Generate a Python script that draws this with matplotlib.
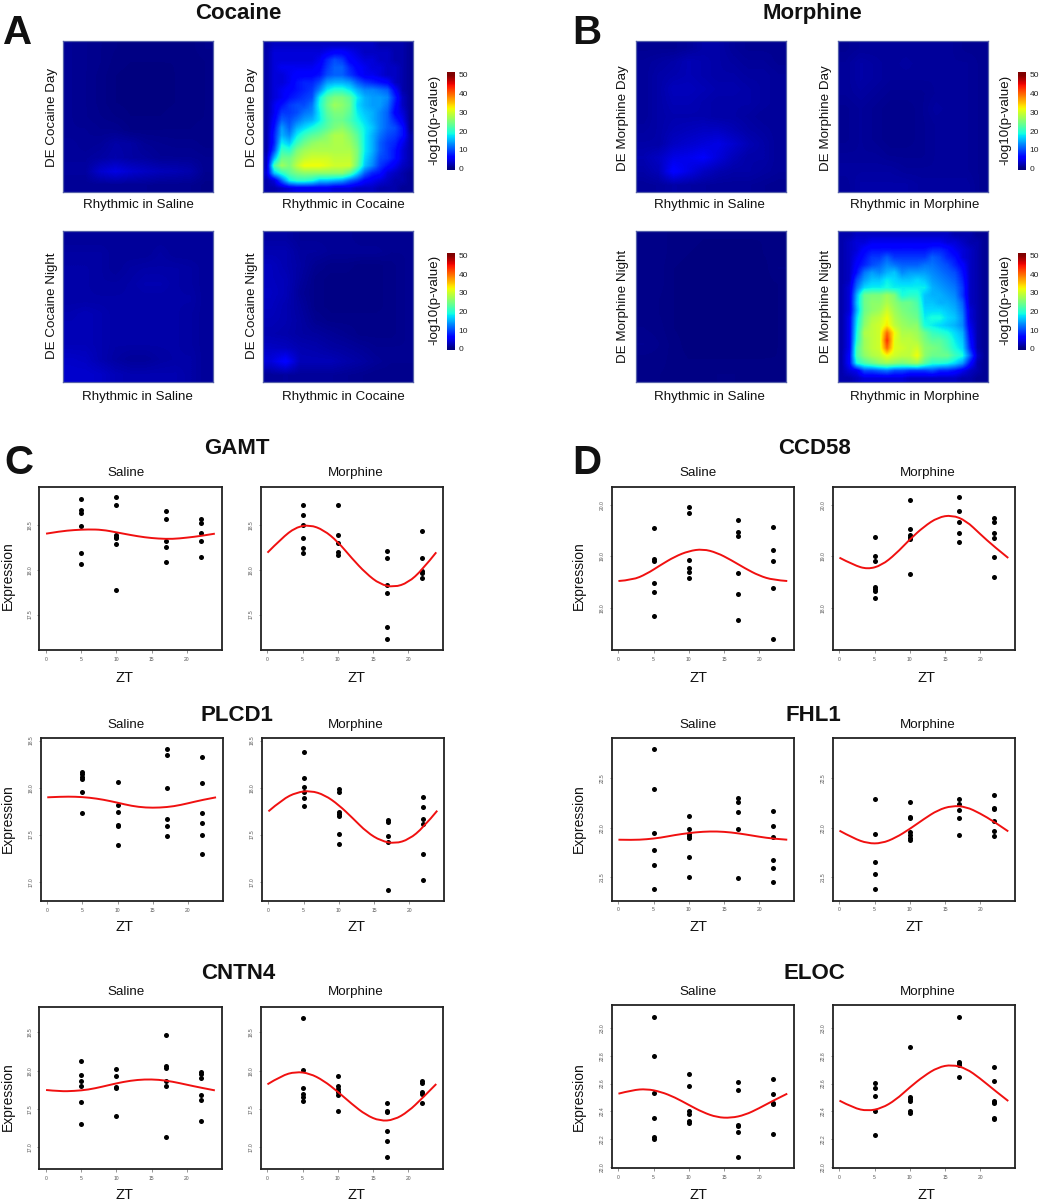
import numpy as np
import matplotlib
matplotlib.use("Agg")
import matplotlib.pyplot as plt
from matplotlib.path import Path
from matplotlib.patches import PathPatch

plt.rcParams['font.family'] = ['Liberation Sans', 'DejaVu Sans']

W, H = 1039, 1200

# ---------- heatmap values (-log10 p), top row first ----------
COC_DAY_SAL = [
 [1,.8,.6,.4,.3,.3,.3,.3,.3,.6],
 [1,.8,.6,.3,.2,.2,.2,.2,.2,.4],
 [1,.8,.5,.2,.1,.1,.1,.2,.2,.4],
 [1,.8,.5,.2,.1,.1,.1,.2,.2,.4],
 [1,.8,.5,.2,.1,.1,.1,.2,.2,.4],
 [1,.8,.6,.4,.2,.2,.2,.3,.3,.4],
 [1,1,.8,.8,.4,.4,.4,.4,.4,.5],
 [1.3,1,1.2,1.8,1.6,1,.8,.7,.7,.5],
 [1.3,1.3,1.6,2,1.6,1.4,1,1,1,.8],
 [1.5,1.5,3.5,4.5,3.6,3,2.6,2.4,2,.8],
 [1,1,1,1,1,1,.8,.8,.8,.5]]
COC_DAY_COC = [
 [2,3,3,3,3,3,3,3,3,3,3,3,3,3,3,2,2,2,2,1],
 [2,4,4,4,4,4,4,4,5,6,6,5,4,3,3,3,3,2,2,1],
 [2,4,4,4,4,4,4,5,8,10,9,6,5,4,4,3,3,2,2,1],
 [2,4,5,5,5,5,5,6,9,11,11,8,6,5,4,4,3,3,2,1],
 [2,4,4,5,6,6,6,7,10,11,11,9,7,5,5,4,3,3,2,1],
 [2,4,4,5,7,8,8,10,14,15,15,14,11,9,8,7,6,3,2,1],
 [2,4,5,6,7,8,9,13,18,20,20,18,15,13,13,12,11,6,2,1],
 [2,4,5,7,8,9,10,18,23,25,25,23,18,15,14,14,13,8,3,1],
 [2,5,7,9,10,10,12,19,24,27,26,24,17,15,14,14,12,7,3,1],
 [2,5,9,9,10,12,13,18,23,25,25,23,18,16,15,13,11,6,4,1],
 [2,6,11,10,12,14,15,18,22,24,24,22,19,17,15,13,11,8,5,1],
 [2,7,14,11,15,17,19,21,23,25,26,24,21,18,16,13,11,10,7,1],
 [2,8,15,13,18,21,23,24,26,28,28,26,23,18,15,12,10,9,7,2],
 [2,8,18,16,21,24,26,27,27,28,28,27,24,18,15,11,9,8,5,2],
 [2,10,21,20,25,27,28,28,28,28,28,28,25,18,15,11,9,7,4,2],
 [3,15,24,24,27,29,30,30,30,29,29,29,25,17,14,10,9,7,4,2],
 [3,22,27,25,29,32,32,32,31,30,30,30,24,16,13,9,7,5,3,2],
 [4,16,20,23,25,26,26,26,26,26,26,23,17,11,8,7,4,3,2,1],
 [2,4,11,18,20,20,19,16,16,15,14,11,9,6,5,4,3,2,2,1],
 [2,2,3,4,5,5,5,5,5,4,4,4,3,3,3,2,2,2,1,1]]
COC_NIGHT_SAL = [
 [1.2,1.2,1.2,1.2,1.2,1.2,1.2,1.2,1.2,1.2],
 [1.6,1.6,1.6,1.2,1.2,1.2,1.6,1.2,1.2,1.2],
 [1.8,1.8,1.6,1.2,1.6,1.8,1.8,1.8,1.6,1.2],
 [1.8,1.8,1.6,1.6,1.8,2.2,2.2,1.8,1.6,1.2],
 [1.8,1.8,1.8,1.8,1.8,1.8,1.8,1.8,1.8,1.2],
 [2.2,2.5,2.2,1.8,1.8,1.8,1.8,1.8,1.6,1.2],
 [2.5,2.5,2.2,1.8,1.8,1.8,1.8,1.8,1.6,1.2],
 [2.5,2.5,2.2,1.8,1.8,1.8,1.8,1.8,1.6,1.2],
 [3.2,3,2.2,1.6,1.2,1.2,1.6,1.8,1.8,1.2],
 [3.5,3.5,3.2,2.5,2.2,2.2,2.2,2.2,1.8,1.2]]
COC_NIGHT_COC = [
 [1.6,1.6,1.1,1.1,1.1,1.1,.8,.8,.8,.8],
 [2.2,2.2,1.4,1.4,1.1,1.1,1.1,1.1,.8,.8],
 [2.8,2.2,1.6,.8,.5,.5,.3,.3,.5,.8],
 [2.8,2.5,1.4,.5,.3,.3,.3,.3,.5,.8],
 [3,2.5,1.1,.5,.3,.3,.3,.3,.5,.8],
 [2.8,2.2,1.4,.5,.3,.3,.3,.3,.5,.8],
 [2.5,2.2,1.6,.8,.5,.5,.5,.5,.5,.8],
 [2.2,2,1.6,1.4,1.1,.8,.5,.5,.5,.8],
 [3,2.8,2.2,2,1.6,1.4,1.1,.8,.8,.8],
 [4,6,2.5,2.5,2.5,2,1.6,1.1,.8,.8],
 [1.2,1.4,1.2,1.2,1.2,1,.8,.6,.6,.6]]
MOR_DAY_SAL = [
 [.9,.9,.9,1.2,1.8,1.8,1.2,.9,.9,.9],
 [1.2,1.5,1.8,2.4,2.1,1.8,1.5,1.2,1.2,.9],
 [1.2,1.8,2.1,2.4,2.1,1.8,1.8,1.5,1.5,1.2],
 [1.2,1.8,2.7,2.7,2.4,2.1,2.1,1.8,1.5,1.2],
 [1.2,1.8,2.4,2.4,2.1,1.8,1.8,1.8,1.5,1.2],
 [1.2,1.8,2.1,2.1,2.1,1.8,1.8,1.5,1.2,1.2],
 [1.5,1.8,2.4,2.7,3,3,2.4,1.8,1.5,1.2],
 [1.8,1.8,3,3.5,4,4.5,3.5,2.4,1.8,1.2],
 [2.2,3,4.5,4.8,5.5,4,2.6,1.8,1.8,1.2],
 [1.8,2.5,6,4.5,3,2.2,1.8,1.8,1.5,1.2],
 [1.2,1.4,1.8,1.6,1.4,1.2,1.2,1.2,1,.8]]
MOR_DAY_MOR = [
 [.9,1.2,1.2,1.2,1.2,1.2,1.2,1.2,.9,.9],
 [1.2,1.8,1.5,1.2,1.5,1.2,1.2,1.2,1.2,.9],
 [1.2,1.8,1.5,1.2,1.2,1.2,1.2,1.2,1.2,.9],
 [1.2,1.5,1.2,.9,.9,.9,1.2,1.2,1.2,.9],
 [.9,1.2,.9,.6,.6,.9,1.5,1.2,1.2,.9],
 [.9,1.2,.9,.6,.6,.9,1.2,1.2,1.2,.9],
 [.9,1.2,.9,.6,.6,.9,1.2,1.2,1.2,.9],
 [1.2,1.2,1.2,.9,.9,.9,1.2,1.2,1.2,.9],
 [1.5,1.5,1.5,1.5,1.2,1.2,1.2,1.2,1.2,.9],
 [1.2,1.8,1.8,1.8,1.8,1.5,1.5,1.5,1.5,.9]]
MOR_NIGHT_SAL = [
 [.5,.5,.3,.3,.2,.2,.2,.2,.2,.3],
 [.5,.5,.3,.2,.1,.1,.1,.1,.2,.3],
 [.5,.5,.2,.1,.1,.1,.1,.1,.1,.4],
 [.5,.5,.2,.1,.1,.1,.1,.1,.1,.2],
 [.5,.4,.2,.1,.1,.1,.1,.1,.1,.2],
 [.5,.4,.2,.1,.1,.1,.1,.1,.1,.2],
 [.6,.5,.2,.1,.1,.1,.1,.1,.1,.2],
 [.8,.6,.3,.1,.1,.1,.1,.1,.1,.2],
 [.5,.5,.3,.2,.2,.2,.2,.2,.2,.2],
 [.4,.4,.3,.3,.3,.4,.4,.3,.3,.2]]
MOR_NIGHT_MOR = [
 [2,2,3,3,3,3,3,3,3,3,3,3,3,3,3,2,2,2,1,1],
 [2,3,4,4,5,5,5,5,5,5,5,5,5,5,4,4,3,2,2,1],
 [2,3,4,6,7,7,7,7,7,7,7,7,8,8,7,5,4,3,2,1],
 [2,3,5,7,9,9,11,9,9,9,9,9,11,10,8,7,4,3,2,1],
 [2,3,6,8,10,11,13,12,11,11,11,12,12,11,10,8,6,3,2,1],
 [2,3,7,12,14,13,15,16,13,14,14,14,13,12,11,10,7,3,2,1],
 [2,3,10,14,16,16,18,17,16,16,17,16,14,13,12,11,8,3,2,1],
 [2,4,12,17,18,18,19,18,18,18,18,18,15,14,13,12,9,3,2,1],
 [2,4,15,24,25,25,27,25,19,20,20,16,15,15,14,13,9,3,2,1],
 [2,4,16,24,26,26,28,26,24,24,22,16,16,15,15,14,11,3,2,1],
 [2,4,15,24,26,27,30,27,25,24,23,17,17,17,16,15,12,4,2,1],
 [2,5,17,25,28,29,32,28,26,25,24,18,19,19,17,16,13,4,2,1],
 [2,5,18,26,29,30,33,29,27,26,26,19,18,17,16,15,13,5,2,1],
 [2,5,19,28,29,30,40,32,28,28,27,24,21,20,19,17,15,6,2,1],
 [2,5,20,27,29,30,43,31,29,29,28,25,23,23,21,18,16,7,2,1],
 [2,5,22,27,29,30,40,31,30,29,30,26,25,24,22,19,17,8,2,1],
 [2,6,22,26,28,29,32,30,29,29,32,26,24,24,24,21,19,11,3,1],
 [2,6,19,22,24,26,27,26,25,26,27,23,20,20,19,17,14,7,2,1],
 [2,4,5,10,10,11,12,10,10,9,9,9,10,8,8,7,5,3,2,1],
 [2,2,3,4,4,4,4,4,4,3,3,3,3,3,3,3,2,2,1,1]]

CBAR_TICKS = [0, 10, 20, 30, 40, 50]

# ---------- expression values: one list per sampling time ----------
SAMPLE_ZT = [5, 10, 17, 22]
FIT_ZT = [0, 2, 4, 6, 8, 10, 12, 14, 16, 18, 20, 22, 24]
ZT_TICKS = [0, 5, 10, 15, 20]

GAMT_SAL = [[18.795,18.672,18.634,18.489,18.187,18.071],
            [18.821,18.728,18.392,18.373,18.354,18.295,17.772],
            [18.664,18.575,18.321,18.254,18.09],
            [18.567,18.526,18.414,18.321,18.146]]
GAMT_SAL_FIT = [18.407,18.433,18.448,18.455,18.451,18.422,18.392,18.366,18.351,18.347,18.362,18.381,18.407]
GAMT_MOR = [[18.728,18.616,18.5,18.362,18.25,18.194],
            [18.724,18.396,18.299,18.205,18.172],
            [18.213,18.131,17.832,17.739,17.362,17.228],
            [18.44,18.138,17.989,17.97,17.914]]
GAMT_MOR_FIT = [18.194,18.354,18.478,18.507,18.448,18.317,18.131,17.963,17.84,17.806,17.858,18.0,18.198]
GAMT_YTICKS = [17.5, 18.0, 18.5]

PLCD1_SAL = [[18.17,18.145,18.117,18.089,17.954,17.734],
             [18.06,17.819,17.741,17.599,17.592,17.39],
             [18.411,18.348,17.993,17.667,17.589,17.486],
             [18.33,18.05,17.727,17.628,17.5,17.294]]
PLCD1_SAL_FIT = [17.897,17.904,17.904,17.894,17.872,17.84,17.805,17.787,17.787,17.801,17.833,17.869,17.897]
PLCD1_MOR = [[18.376,18.099,18.011,17.95,17.894,17.805],
             [17.989,17.954,17.745,17.72,17.699,17.507,17.397],
             [17.656,17.638,17.486,17.426,16.908],
             [17.904,17.794,17.667,17.613,17.291,17.018]]
PLCD1_MOR_FIT = [17.748,17.876,17.95,17.968,17.922,17.816,17.674,17.525,17.433,17.404,17.45,17.574,17.755]
PLCD1_YTICKS = [17.0, 17.5, 18.0, 18.5]

CNTN4_SAL = [[18.126,17.948,17.87,17.804,17.587,17.3],
             [18.017,17.93,17.791,17.77,17.413],
             [18.461,18.057,18.03,17.87,17.804,17.139],
             [17.987,17.952,17.9,17.687,17.617,17.343]]
CNTN4_SAL_FIT = [17.748,17.73,17.735,17.752,17.791,17.835,17.87,17.887,17.883,17.857,17.817,17.778,17.743]
CNTN4_MOR = [[18.687,18.004,17.774,17.691,17.657,17.609],
             [17.935,17.8,17.761,17.726,17.687,17.474],
             [17.583,17.474,17.461,17.209,17.083,16.87],
             [17.87,17.835,17.726,17.691,17.574]]
CNTN4_MOR_FIT = [17.822,17.935,17.987,17.965,17.87,17.726,17.565,17.422,17.343,17.357,17.465,17.639,17.826]
CNTN4_YTICKS = [17.0, 17.5, 18.0, 18.5]

CCD58_SAL = [[19.552,18.942,18.916,18.487,18.299,17.844],
             [19.968,19.838,18.935,18.766,18.688,18.578],
             [19.714,19.468,19.39,18.682,18.273,17.753],
             [19.565,19.123,18.903,18.377,17.39]]
CCD58_SAL_FIT = [18.519,18.539,18.656,18.831,18.994,19.104,19.143,19.071,18.929,18.766,18.623,18.539,18.519]
CCD58_MOR = [[19.37,19.013,18.916,18.396,18.357,18.318,18.182],
             [20.097,19.532,19.416,19.383,19.344,18.656],
             [20.149,19.877,19.662,19.461,19.279],
             [19.74,19.675,19.461,19.364,18.987,18.597]]
CCD58_MOR_FIT = [18.974,18.831,18.747,18.825,19.045,19.331,19.578,19.76,19.805,19.695,19.435,19.188,18.968]
CCD58_YTICKS = [18.0, 19.0, 20.0]

FHL1_SAL = [[22.789,22.389,21.943,21.779,21.628,21.383],
            [22.121,21.99,21.933,21.916,21.899,21.708,21.5],
            [22.295,22.262,22.161,21.99,21.497],
            [22.164,22.02,21.909,21.678,21.597,21.453]]
FHL1_SAL_FIT = [21.879,21.876,21.883,21.899,21.926,21.946,21.96,21.963,21.953,21.933,21.909,21.889,21.879]
FHL1_MOR = [[22.289,21.936,21.658,21.53,21.379],
            [22.255,22.111,22.101,21.96,21.926,21.899,21.876],
            [22.292,22.235,22.174,22.101,21.93],
            [22.326,22.201,22.191,22.064,21.963,21.913]]
FHL1_MOR_FIT = [21.97,21.893,21.842,21.842,21.899,21.987,22.087,22.178,22.221,22.211,22.144,22.06,21.963]
FHL1_YTICKS = [21.5, 22.0, 22.5]

ELOC_SAL = [[23.081,22.8,22.532,22.352,22.218,22.203],
            [22.671,22.58,22.402,22.378,22.33,22.318],
            [22.611,22.556,22.304,22.297,22.254,22.074],
            [22.633,22.525,22.462,22.455,22.237]]
ELOC_SAL_FIT = [22.527,22.553,22.561,22.541,22.501,22.446,22.393,22.357,22.352,22.374,22.422,22.477,22.527]
ELOC_MOR = [[22.601,22.57,22.513,22.4,22.23],
            [22.863,22.506,22.489,22.474,22.4,22.386],
            [23.081,22.757,22.745,22.733,22.649],
            [22.717,22.621,22.477,22.467,22.458,22.354,22.345]]
ELOC_MOR_FIT = [22.477,22.424,22.402,22.422,22.482,22.573,22.654,22.717,22.736,22.709,22.637,22.553,22.474]
ELOC_YTICKS = [22.0, 22.2, 22.4, 22.6, 22.8, 23.0]

# ---------- figure helpers (pixel layout) ----------
fig = plt.figure(figsize=(W / 100, H / 100), dpi=100)


def box(x0, x1, y0, y1):
    return fig.add_axes([x0 / W, 1 - y1 / H, (x1 - x0) / W, (y1 - y0) / H])


def label(x, y, s, size=9.6, **kw):
    kw.setdefault('ha', 'center')
    kw.setdefault('va', 'center')
    fig.text(x / W, 1 - y / H, s, fontsize=size, color='#111111', **kw)


def title(x, y, s):
    label(x, y, s, size=16, fontweight='bold', va='baseline')


def base(x, y, s):
    label(x, y, s, va='baseline')


def heat(x0, y0, grid):
    ax = box(x0, x0 + 150, y0, y0 + 151)
    ax.imshow(np.array(grid, float), cmap='jet', vmin=0, vmax=50, aspect='auto',
              interpolation='bilinear')
    ax.set_xticks([])
    ax.set_yticks([])
    for s in ax.spines.values():
        s.set_color('#5560aa')
        s.set_linewidth(0.9)


def cbar(x0, y0, y1, tx):
    ax = box(x0, x0 + 7.5, y0, y1)
    lo, hi = -0.7, 51.6
    ax.imshow(np.linspace(hi, lo, 256)[:, None], cmap='jet', vmin=0, vmax=50,
              aspect='auto', extent=[0, 1, lo, hi])
    ax.set_xticks([])
    ax.set_yticks(CBAR_TICKS)
    ax.yaxis.tick_right()
    ax.tick_params(axis='y', length=0, pad=tx, labelsize=6, labelcolor='#222222')
    for s in ax.spines.values():
        s.set_visible(False)


def smooth_path(xs, ys):
    """Quadratic curve that uses the read values as its control points."""
    verts = [(xs[0], ys[0])]
    codes = [Path.MOVETO]
    for i in range(1, len(xs) - 1):
        ex = xs[-1] if i == len(xs) - 2 else (xs[i] + xs[i + 1]) / 2
        ey = ys[-1] if i == len(xs) - 2 else (ys[i] + ys[i + 1]) / 2
        verts += [(xs[i], ys[i]), (ex, ey)]
        codes += [Path.CURVE3, Path.CURVE3]
    return Path(verts, codes)


def scatter_panel(x0, y0, y1, ylim, yticks, values, fit, width=182.3):
    ax = box(x0, x0 + width, y0, y1)
    for zt, vals in zip(SAMPLE_ZT, values):
        ax.scatter([zt] * len(vals), vals, s=13, color='black', linewidths=0, zorder=2)
    ax.add_patch(PathPatch(smooth_path(FIT_ZT, fit), fill=False, edgecolor='#f01010',
                           lw=1.4, zorder=3))
    ax.set_xlim(-0.96, 24.96)
    ax.set_ylim(*ylim)
    ax.set_xticks(ZT_TICKS)
    ax.set_yticks(yticks)
    ax.set_yticklabels(['%.1f' % t for t in yticks], rotation=90, va='center')
    ax.tick_params(axis='both', length=1.8, width=0.4, pad=3.0, labelsize=3.6,
                   color='#444444', labelcolor='#555555')
    for s in ax.spines.values():
        s.set_color('#222222')
        s.set_linewidth(1.3)


# ---------- A and B heat maps ----------
ROW1_Y, ROW2_Y = 41, 231
heat(63.3, ROW1_Y, COC_DAY_SAL)
heat(262.7, ROW1_Y, COC_DAY_COC)
heat(63.3, ROW2_Y, COC_NIGHT_SAL)
heat(262.7, ROW2_Y, COC_NIGHT_COC)
heat(635.7, ROW1_Y, MOR_DAY_SAL)
heat(838.3, ROW1_Y, MOR_DAY_MOR)
heat(635.7, ROW2_Y, MOR_NIGHT_SAL)
heat(838.3, ROW2_Y, MOR_NIGHT_MOR)

cbar(446.7, 72, 170, 3)
cbar(446.7, 252.7, 350, 3)
cbar(1017.7, 72, 170, 3)
cbar(1017.7, 252.7, 350, 3)

for x in (434.5, 1005.5):
    for y in (120, 300):
        label(x, y, '-log10(p-value)', rotation=90)

base(138, 208.3, 'Rhythmic in Saline')
base(343, 208.3, 'Rhythmic in Cocaine')
base(137, 400, 'Rhythmic in Saline')
base(343, 400, 'Rhythmic in Cocaine')
base(709, 208.3, 'Rhythmic in Saline')
base(914.7, 208.3, 'Rhythmic in Morphine')
base(709, 400, 'Rhythmic in Saline')
base(914.7, 400, 'Rhythmic in Morphine')
label(51.5, 117.7, 'DE Cocaine Day', rotation=90)
label(252.2, 117.7, 'DE Cocaine Day', rotation=90)
label(51.5, 306, 'DE Cocaine Night', rotation=90)
label(252.2, 306, 'DE Cocaine Night', rotation=90)
label(623.2, 117.7, 'DE Morphine Day', rotation=90)
label(825.8, 117.7, 'DE Morphine Day', rotation=90)
label(623.2, 306, 'DE Morphine Night', rotation=90)
label(825.8, 306, 'DE Morphine Night', rotation=90)

title(238, 19.3, 'Cocaine')
title(812.7, 19.3, 'Morphine')

label(3, 43.5, 'A', size=29, fontweight='bold', ha='left', va='baseline')
label(572, 43.5, 'B', size=29, fontweight='bold', ha='left', va='baseline')
label(4, 474, 'C', size=29, fontweight='bold', ha='left', va='baseline')
label(572, 474, 'D', size=29, fontweight='bold', ha='left', va='baseline')

# ---------- C and D scatter panels ----------
LEFT_X = (39.3, 260.7)
RIGHT_X = (611.7, 832.7)

scatter_panel(LEFT_X[0], 486.7, 650, (17.104, 18.933), GAMT_YTICKS, GAMT_SAL, GAMT_SAL_FIT)
scatter_panel(LEFT_X[1], 486.7, 650, (17.104, 18.933), GAMT_YTICKS, GAMT_MOR, GAMT_MOR_FIT)
scatter_panel(LEFT_X[0] + 1.2, 738.3, 901, (16.794, 18.525), PLCD1_YTICKS, PLCD1_SAL, PLCD1_SAL_FIT)
scatter_panel(LEFT_X[1] + 1, 738.3, 901, (16.794, 18.525), PLCD1_YTICKS, PLCD1_MOR, PLCD1_MOR_FIT)
scatter_panel(LEFT_X[0], 1006.7, 1169.3, (16.713, 18.835), CNTN4_YTICKS, CNTN4_SAL, CNTN4_SAL_FIT)
scatter_panel(LEFT_X[1], 1006.7, 1169.3, (16.713, 18.835), CNTN4_YTICKS, CNTN4_MOR, CNTN4_MOR_FIT)
scatter_panel(RIGHT_X[0], 486.7, 650.3, (17.169, 20.357), CCD58_YTICKS, CCD58_SAL, CCD58_SAL_FIT)
scatter_panel(RIGHT_X[1], 486.7, 650.3, (17.169, 20.357), CCD58_YTICKS, CCD58_MOR, CCD58_MOR_FIT)
scatter_panel(RIGHT_X[0], 737.7, 900.7, (21.265, 22.906), FHL1_YTICKS, FHL1_SAL, FHL1_SAL_FIT)
scatter_panel(RIGHT_X[1], 737.7, 900.7, (21.265, 22.906), FHL1_YTICKS, FHL1_MOR, FHL1_MOR_FIT)
scatter_panel(RIGHT_X[0], 1005, 1168.3, (21.99, 23.165), ELOC_YTICKS, ELOC_SAL, ELOC_SAL_FIT)
scatter_panel(RIGHT_X[1], 1005, 1168.3, (21.99, 23.165), ELOC_YTICKS, ELOC_MOR, ELOC_MOR_FIT)

for gene, x, y in [('GAMT', 237.3, 454.3), ('PLCD1', 237.3, 721), ('CNTN4', 238, 979.3),
                   ('CCD58', 814.3, 454.3), ('FHL1', 813.7, 721), ('ELOC', 814, 979.3)]:
    title(x, y, gene)

for y in (476, 727.7, 994.7):
    base(125.7, y, 'Saline')
    base(356, y, 'Morphine')
    base(697.7, y, 'Saline')
    base(927.3, y, 'Morphine')

for x, y in [(125, 681.7), (356, 681.7), (125, 931), (356, 931), (125, 1199.3), (356, 1199.3),
             (698.3, 681.7), (927, 681.7), (698, 931), (914, 931), (698, 1199.3), (927, 1199.3)]:
    label(x, y, 'ZT', size=10.5, va='baseline')

for x in (7.5, 578.8):
    for y in (575.7, 819, 1096.7):
        label(x, y, 'Expression', size=10, rotation=90)

fig.savefig('out.png', dpi=100)
